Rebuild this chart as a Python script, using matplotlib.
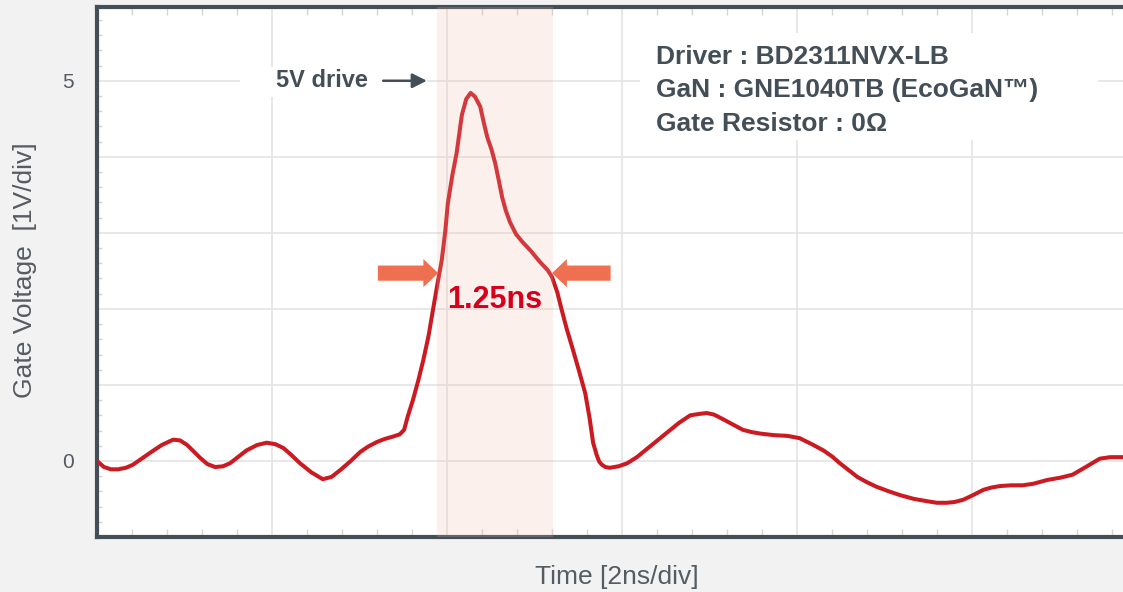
import matplotlib
matplotlib.use("Agg")
import matplotlib.pyplot as plt
from matplotlib.ticker import MultipleLocator
from matplotlib.patches import Rectangle

plt.rcParams['font.family'] = ['Liberation Sans', 'DejaVu Sans']

# gate waveform (time in ns, voltage in V)
time_ns = [0.0, 0.08, 0.16, 0.24, 0.33, 0.41, 0.51, 0.61, 0.74, 0.87, 0.95, 1.03,
           1.11, 1.18, 1.26, 1.35, 1.44, 1.52, 1.61, 1.71, 1.83, 1.94, 2.04, 2.13,
           2.22, 2.32, 2.45, 2.58, 2.68, 2.78, 2.90, 3.01, 3.10, 3.20, 3.29, 3.38,
           3.46, 3.51, 3.55, 3.61, 3.67, 3.73, 3.79, 3.84, 3.89, 3.94, 3.98, 4.01,
           4.06, 4.11, 4.14, 4.17, 4.22, 4.27, 4.32, 4.38, 4.42, 4.46, 4.51, 4.55,
           4.59, 4.63, 4.67, 4.72, 4.79, 4.87, 4.96, 5.06, 5.15, 5.20, 5.26, 5.31,
           5.37, 5.44, 5.51, 5.58, 5.63, 5.67, 5.71, 5.74, 5.77, 5.81, 5.86, 5.96,
           6.06, 6.17, 6.34, 6.51, 6.65, 6.78, 6.89, 6.97, 7.05, 7.12, 7.25, 7.38,
           7.48, 7.58, 7.73, 7.89, 8.03, 8.17, 8.30, 8.40, 8.49, 8.59, 8.69, 8.80,
           8.91, 9.05, 9.18, 9.34, 9.49, 9.60, 9.71, 9.80, 9.90, 10.01, 10.13,
           10.22, 10.32, 10.45, 10.58, 10.70, 10.86, 11.01, 11.15, 11.30, 11.46,
           11.58, 11.73, 12.0]
gate_v = [0.0, -0.08, -0.11, -0.11, -0.09, -0.05, 0.03, 0.11, 0.21, 0.28, 0.27, 0.21,
          0.12, 0.04, -0.04, -0.08, -0.07, -0.03, 0.05, 0.14, 0.21, 0.24, 0.22, 0.17,
          0.08, -0.03, -0.15, -0.24, -0.21, -0.12, 0.00, 0.12, 0.19, 0.25, 0.29, 0.32,
          0.35, 0.41, 0.58, 0.80, 1.05, 1.33, 1.65, 1.99, 2.32, 2.64, 3.02, 3.39,
          3.75, 4.05, 4.30, 4.55, 4.76, 4.84, 4.79, 4.66, 4.45, 4.26, 4.09, 3.92,
          3.70, 3.47, 3.30, 3.14, 2.98, 2.87, 2.76, 2.62, 2.51, 2.42, 2.22, 1.99,
          1.73, 1.46, 1.18, 0.89, 0.56, 0.24, 0.08, -0.01, -0.05, -0.08, -0.09, -0.07,
          -0.03, 0.05, 0.21, 0.37, 0.50, 0.60, 0.62, 0.63, 0.61, 0.57, 0.49, 0.41,
          0.38, 0.36, 0.34, 0.33, 0.30, 0.22, 0.14, 0.06, -0.03, -0.12, -0.21, -0.28,
          -0.34, -0.40, -0.45, -0.50, -0.53, -0.55, -0.55, -0.54, -0.51, -0.45, -0.38,
          -0.35, -0.33, -0.32, -0.32, -0.30, -0.25, -0.22, -0.18, -0.08, 0.03,
          0.05, 0.05, 0.05]

pulse_span = [3.886, 5.21]
pulse_label = "1.25ns"
y_ticks = [0, 1, 2, 3, 4, 5]
y_tick_labels = ["0", "", "", "", "", "5"]
info_lines = ["Driver : BD2311NVX-LB",
              "GaN : GNE1040TB (EcoGaN\u2122)",
              "Gate Resistor : 0\u03a9"]

dark = "#444e57"
grey_txt = "#555b61"
red = "#cc1a22"

fig = plt.figure(figsize=(11.23, 5.92), dpi=100)
fig.patch.set_facecolor("#f2f2f2")
ax = fig.add_axes([97 / 1123, 55 / 592, 1050 / 1123, 530 / 592])
ax.set_facecolor("white")

ax.set_xlim(0, 12)
ax.set_ylim(-1, 5.97)

# grid and ticks
ax.xaxis.set_major_locator(MultipleLocator(2))
ax.xaxis.set_minor_locator(MultipleLocator(0.4))
ax.set_yticks(y_ticks)
ax.set_yticklabels(y_tick_labels)
ax.yaxis.set_minor_locator(MultipleLocator(0.2))
ax.grid(True, which="major", color="#e4e4e4", linewidth=1.2)
ax.set_axisbelow(True)
ax.tick_params(axis="x", which="major", length=0, labelbottom=False)
ax.tick_params(axis="x", which="minor", direction="in", length=6, width=1,
               color="#d4d4d4", top=True, bottom=True)
ax.tick_params(axis="y", which="major", length=0, pad=17, labelsize=15,
               labelcolor=grey_txt)
ax.tick_params(axis="y", which="minor", direction="in", length=3.5, width=1,
               color="#d4d4d4")

for side in ["left", "top", "bottom"]:
    ax.spines[side].set_color(dark)
    ax.spines[side].set_linewidth(3)
ax.spines["right"].set_visible(False)

# waveform
ax.plot(time_ns, gate_v, color=red, linewidth=2.9, zorder=3,
        solid_capstyle="round", solid_joinstyle="round")

# highlighted pulse width band (drawn over the trace, semi transparent)
ax.axvspan(pulse_span[0], pulse_span[1], color="#f4b8a5", alpha=0.2,
           linewidth=0, zorder=4)

# width arrows
ax.arrow(3.21, 2.47, 0.69, 0, width=0.2, head_width=0.37, head_length=0.17,
         length_includes_head=True, color="#ef7050", linewidth=0, zorder=5)
ax.arrow(5.87, 2.47, -0.67, 0, width=0.2, head_width=0.37, head_length=0.17,
         length_includes_head=True, color="#ef7050", linewidth=0, zorder=5)
ax.text(4.54, 2.12, pulse_label, color="#d7001b", fontsize=22, fontweight="bold",
        ha="center", va="center", zorder=6)

# 5V drive label
ax.add_patch(Rectangle((1.634, 4.79), 2.137, 0.395, facecolor="white",
                       edgecolor="none", zorder=2))
ax.text(2.046, 5.0, "5V drive", color=dark, fontsize=17, fontweight="bold",
        ha="left", va="center", zorder=6)
ax.annotate("", xy=(3.77, 5.0), xytext=(3.27, 5.0),
            arrowprops=dict(arrowstyle="-|>", color=dark, lw=1.8,
                            mutation_scale=22, shrinkA=0, shrinkB=0), zorder=6)

# info block
ax.add_patch(Rectangle((6.206, 4.22), 5.234, 1.41, facecolor="white",
                       edgecolor="none", zorder=2))
for i, line in enumerate(info_lines):
    ax.text(6.389, 5.316 - i * 0.441, line, color=dark, fontsize=19,
            fontweight="bold", ha="left", va="center", zorder=6)

ax.set_xlabel("Time [2ns/div]", fontsize=19, color=grey_txt, va="center")
ax.xaxis.set_label_coords(0.495, -0.0755)
ax.set_ylabel("Gate Voltage  [1V/div]", fontsize=19, color=grey_txt, va="center")
ax.yaxis.set_label_coords(-0.0686, 0.504)

fig.savefig("out.png", dpi=100, facecolor=fig.get_facecolor())
